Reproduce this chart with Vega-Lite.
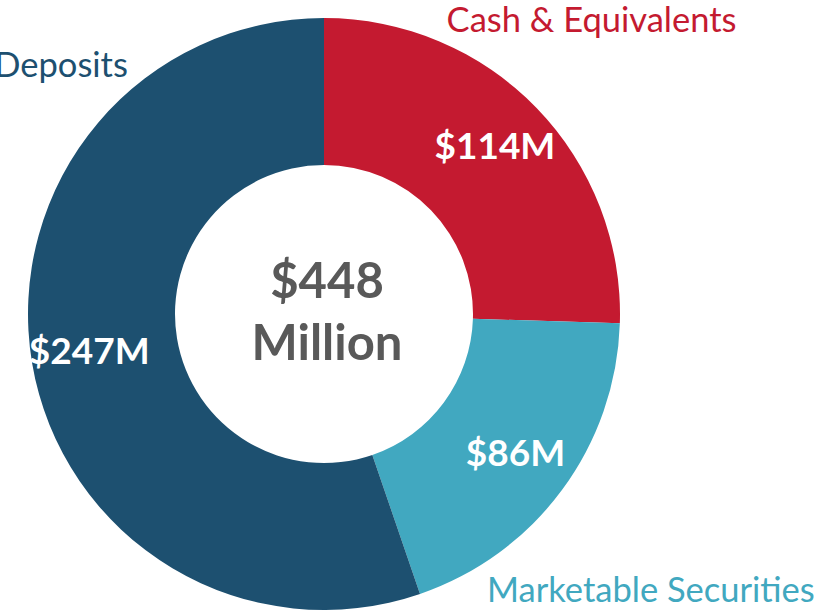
{
  "$schema": "https://vega.github.io/schema/vega-lite/v6.json",
  "width": 648,
  "height": 598,
  "autosize": {"type": "none"},
  "padding": {"left": 0, "top": 15, "right": 169, "bottom": 0},
  "background": "white",
  "config": {"view": {"stroke": null}, "font": "Lato"},
  "data": {
    "values": [
      {"category": "Cash & Equivalents", "value": 114, "label": "$114M", "order": 1},
      {"category": "Marketable Securities", "value": 86, "label": "$86M", "order": 2},
      {"category": "Deposits", "value": 247, "label": "$247M", "order": 3}
    ]
  },
  "encoding": {
    "theta": {"field": "value", "type": "quantitative", "stack": true},
    "order": {"field": "order", "type": "quantitative"},
    "color": {
      "field": "category",
      "type": "nominal",
      "scale": {
        "domain": ["Cash & Equivalents", "Marketable Securities", "Deposits"],
        "range": ["#C41A30", "#41A8C0", "#1D5070"]
      },
      "legend": null
    }
  },
  "layer": [
    {"mark": {"type": "arc", "innerRadius": 149, "outerRadius": 296}},
    {
      "mark": {"type": "text", "radius": 238, "fontSize": 37, "fontWeight": "bold", "baseline": "middle", "align": "center"},
      "encoding": {"text": {"field": "label"}, "color": {"value": "#FFFFFF"}}
    },
    {
      "mark": {"type": "text", "radius": 399, "dx": -19, "dy": -14, "fontSize": 34.5, "baseline": "middle", "align": "center"},
      "encoding": {"text": {"condition": {"test": "datum.category === 'Cash & Equivalents'", "field": "category"}, "value": ""}}
    },
    {
      "mark": {"type": "text", "radius": 420, "dx": -11, "dy": 29, "fontSize": 34.5, "baseline": "middle", "align": "center"},
      "encoding": {"text": {"condition": {"test": "datum.category === 'Marketable Securities'", "field": "category"}, "value": ""}}
    },
    {
      "mark": {"type": "text", "radius": 300, "dx": 33, "dy": -296, "fontSize": 34.5, "baseline": "middle", "align": "center"},
      "encoding": {"text": {"condition": {"test": "datum.category === 'Deposits'", "field": "category"}, "value": ""}}
    },
    {
      "data": {"values": [{"center": ["$448", "Million"]}]},
      "mark": {"type": "text", "fontSize": 49, "fontWeight": "bold", "color": "#595959", "baseline": "middle", "align": "center", "lineHeight": 62, "dx": 3, "dy": -31},
      "encoding": {"text": {"field": "center"}, "theta": null, "order": null, "color": null}
    }
  ]
}
